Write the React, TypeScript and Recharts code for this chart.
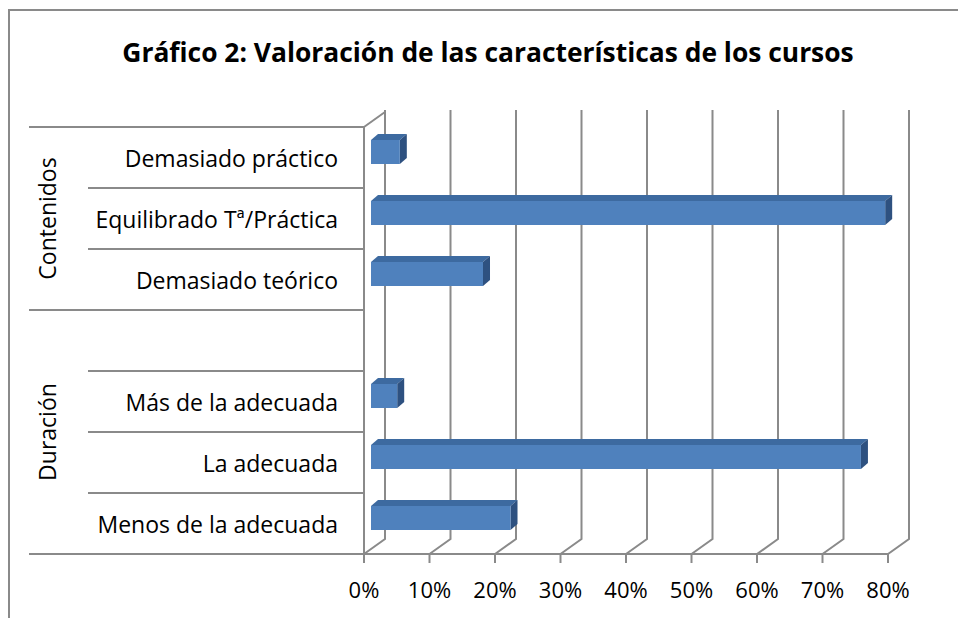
import React from 'react'
import { BarChart, Bar, XAxis, YAxis, CartesianGrid } from 'recharts'

// Categories from top to bottom (the empty one is the gap between the two groups)
const categories = [
  'Demasiado práctico',
  'Equilibrado Tª/Práctica',
  'Demasiado teórico',
  '',
  'Más de la adecuada',
  'La adecuada',
  'Menos de la adecuada',
]
const groupOfCategory = ['Contenidos', 'Contenidos', 'Contenidos', 'Duración', 'Duración', 'Duración', 'Duración']
const percentages: (number | null)[] = [4.4, 78.5, 17.1, null, 4.0, 74.8, 21.3]
const xTicks = [0, 10, 20, 30, 40, 50, 60, 70, 80]

const title = 'Gráfico 2: Valoración de las características de los cursos'

const data = categories.map((label, i) => ({ label, group: groupOfCategory[i], value: percentages[i] }))

// layout
const W = 958
const H = 618
const PLOT_LEFT = 364
const PLOT_TOP = 127
const PLOT_RIGHT = 888
const PLOT_BOTTOM = 554
const BAND = (PLOT_BOTTOM - PLOT_TOP) / categories.length
const WALL_DX = 21
const WALL_DY = 15
const FACE_DX = 7
const FACE_DY = 6
const BAR_DX = 7
const BAR_DY = 6
const LABEL_X = PLOT_LEFT - 26
const INNER_LINE_X = 88
const GROUP_LINE_X = 29
const GROUP_X = 47

const FONT = '"Open Sans", sans-serif'
const LINE = '#8a8a8a'
const FRONT = '#4f81bd'
const TOP = '#3d6aa0'
const SIDE = '#2e5180'

function Bar3D(props: any) {
  const { x, y, width, height } = props
  if (!width || width <= 0) return null
  const fx = x + FACE_DX
  const fy = y - FACE_DY
  const r = fx + width
  return (
    <g>
      <polygon
        points={`${fx},${fy} ${r},${fy} ${r + BAR_DX},${fy - BAR_DY} ${fx + BAR_DX},${fy - BAR_DY}`}
        fill={TOP}
      />
      <polygon
        points={`${r},${fy} ${r + BAR_DX},${fy - BAR_DY} ${r + BAR_DX},${fy + height - BAR_DY} ${r},${fy + height}`}
        fill={SIDE}
      />
      <rect x={fx} y={fy} width={width} height={height} fill={FRONT} />
    </g>
  )
}

function CategoryTick(props: any) {
  const { y, payload } = props
  const i = payload.index
  const top = y - BAND / 2
  const bottom = y + BAND / 2
  const group = groupOfCategory[i]
  const startsGroup = i === 0 || groupOfCategory[i - 1] !== group
  const last = i === categories.length - 1
  let groupLabel = null
  if (startsGroup) {
    const count = groupOfCategory.filter((g) => g === group).length
    const cy = top + (count * BAND) / 2
    groupLabel = (
      <text
        x={GROUP_X}
        y={cy}
        transform={`rotate(-90 ${GROUP_X} ${cy})`}
        textAnchor="middle"
        dominantBaseline="central"
        fontFamily={FONT}
        fontSize={23}
        fill="#000"
      >
        {group}
      </text>
    )
  }
  return (
    <g>
      <line x1={startsGroup ? GROUP_LINE_X : INNER_LINE_X} x2={PLOT_LEFT} y1={top} y2={top} stroke={LINE} strokeWidth={2} />
      {last && <line x1={GROUP_LINE_X} x2={PLOT_LEFT} y1={bottom} y2={bottom} stroke={LINE} strokeWidth={2} />}
      <text x={LABEL_X} y={y} textAnchor="end" dominantBaseline="central" fontFamily={FONT} fontSize={23} fill="#000">
        {payload.value}
      </text>
      {groupLabel}
    </g>
  )
}

// back wall gridline with the floor diagonal down to the front axis
const renderWallLine = (props: any) => {
  const { x1, y1, y2, index } = props
  return (
    <g key={`wall-${index}`}>
      <polyline
        points={`${x1},${y2} ${x1 + WALL_DX},${y2 - WALL_DY} ${x1 + WALL_DX},${y1 - WALL_DY - 2}`}
        fill="none"
        stroke={LINE}
        strokeWidth={2}
      />
      {index === 0 && (
        <line x1={x1} y1={y1} x2={x1 + WALL_DX} y2={y1 - WALL_DY} stroke={LINE} strokeWidth={2} />
      )}
    </g>
  )
}

export default function App() {
  return (
    <div style={{ position: 'absolute', left: 0, top: 0, width: W, height: H, overflow: 'hidden', background: '#fff' }}>
      <div
        style={{
          position: 'absolute',
          left: 8,
          top: 9,
          width: W + 40,
          height: H + 40,
          border: `2px solid ${LINE}`,
          boxSizing: 'border-box',
        }}
      />
      <svg width={W} height={H} style={{ position: 'absolute', left: 0, top: 0 }}>
        <text x={488} y={62} textAnchor="middle" fontFamily={FONT} fontWeight={700} fontSize={26.4} fill="#000">
          {title}
        </text>
      </svg>
      <div style={{ position: 'absolute', left: 0, top: 0 }}>
        <BarChart
          width={W}
          height={H}
          data={data}
          layout="vertical"
          margin={{ top: PLOT_TOP, right: W - PLOT_RIGHT, bottom: H - PLOT_BOTTOM - 40, left: 0 }}
        >
          <CartesianGrid horizontal={false} vertical={renderWallLine} fill="none" />
          <XAxis
            type="number"
            domain={[0, 80]}
            ticks={xTicks}
            height={40}
            tickFormatter={(v) => `${v}%`}
            axisLine={{ stroke: LINE, strokeWidth: 2 }}
            tickLine={{ stroke: LINE, strokeWidth: 2 }}
            tickSize={9}
            tickMargin={19}
            tick={{ fontFamily: FONT, fontSize: 22, fill: '#000' }}
          />
          <YAxis
            type="category"
            dataKey="label"
            width={PLOT_LEFT}
            interval={0}
            tickLine={false}
            axisLine={{ stroke: LINE, strokeWidth: 2 }}
            tick={<CategoryTick />}
          />
          <Bar dataKey="value" barSize={24} shape={<Bar3D />} isAnimationActive={false} />
        </BarChart>
      </div>
    </div>
  )
}
